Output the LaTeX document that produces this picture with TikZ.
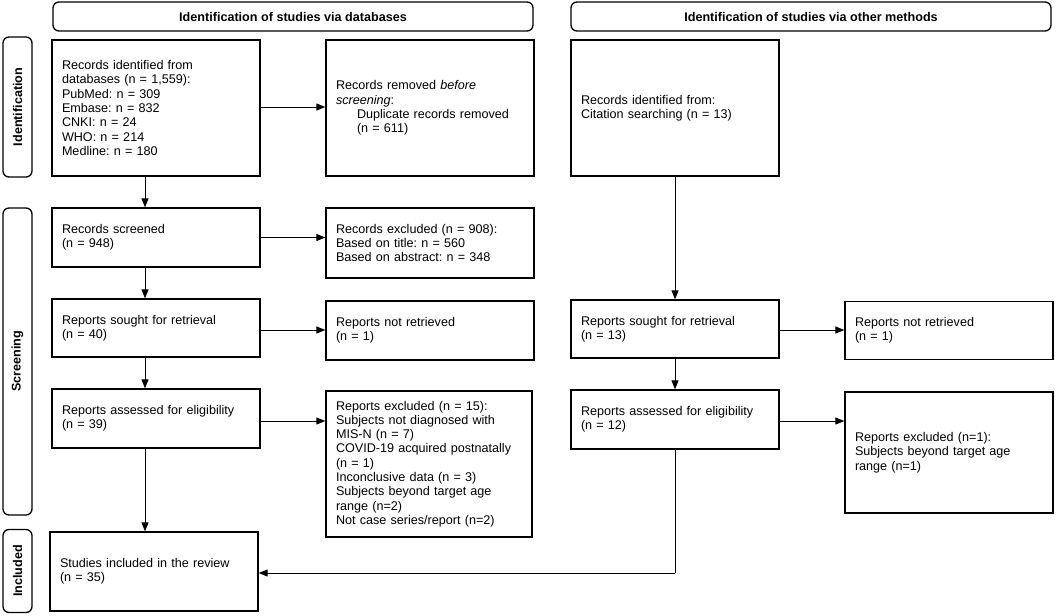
\documentclass[tikz,border=0pt]{standalone}
\usepackage{fontspec}
\setmainfont{Liberation Sans}
\usetikzlibrary{arrows.meta}
\newcommand{\fs}{\fontsize{12.6}{14.3}\selectfont}
\frenchspacing
\begin{document}
\begin{tikzpicture}[x=1pt,y=-1pt,
  box/.style={draw, line width=1.3pt, rectangle, inner xsep=10pt, inner ysep=0pt,
    align=left, font=\fs, text width=188pt, minimum width=208pt, anchor=center},
  header/.style={draw, line width=1.3pt, rounded corners=6pt, font=\fs\bfseries,
    minimum width=480pt, minimum height=29pt, inner sep=0pt, anchor=center},
  sidelab/.style={draw, line width=1.3pt, rounded corners=6pt, font=\fs\bfseries,
    minimum height=29pt, inner sep=0pt, rotate=90, anchor=center},
  arr/.style={line width=0.9pt, -{Triangle[length=9pt,width=7pt]}},
  ln/.style={line width=0.9pt}]
\useasboundingbox (0,0) rectangle (1056,615);
\fill[white] (0,0) rectangle (1056,615);

% headers
\node[header] (h1) at (293,16.5) {Identification of studies via databases};
\node[header] (h2) at (811,16.5) {Identification of studies via other methods};

% side labels
\node[sidelab, minimum width=140pt] (s1) at (17.5,107) {Identification};
\node[sidelab, minimum width=307pt] (s2) at (17.5,361.5) {Screening};
\node[sidelab, minimum width=83pt] (s3) at (17.5,571) {Included};

% left column
\node[box, minimum height=136pt] (A) at (156,108) {Records identified from\\databases (n = 1,559):\\PubMed: n = 309\\Embase: n = 832\\CNKI: n = 24\\WHO: n = 214\\Medline: n = 180};
\node[box, minimum height=59pt] (D) at (156,237.5) {Records screened\\(n = 948)};
\node[box, minimum height=58pt] (F) at (156,328) {Reports sought for retrieval\\(n = 40)};
\node[box, minimum height=59pt] (H) at (156,418.5) {Reports assessed for eligibility\\(n = 39)};
\node[box, minimum height=79pt] (J) at (154,571.5) {Studies included in the review\\(n = 35)};

% second column
\node[box, minimum height=136pt] (B) at (430,108) {Records removed \textit{before}\\\textit{screening}:\\\hspace*{21pt}Duplicate records removed\\\hspace*{21pt}(n = 611)};
\node[box, minimum height=70pt] (E) at (430,243) {Records excluded (n = 908):\\Based on title: n = 560\\Based on abstract: n = 348};
\node[box, minimum height=59pt] (G) at (430,330.5) {Reports not retrieved\\(n = 1)};
\node[box, minimum height=146pt, minimum width=206pt, text width=186pt] (I) at (429,464) {Reports excluded (n = 15):\\Subjects not diagnosed with\\MIS-N (n = 7)\\COVID-19 acquired postnatally\\(n = 1)\\Inconclusive data (n = 3)\\Subjects beyond target age\\range (n=2)\\Not case series/report (n=2)};

% third column
\node[box, minimum height=136pt] (C) at (675,108) {Records identified from:\\Citation searching (n = 13)};
\node[box, minimum height=58pt] (K) at (675,329) {Reports sought for retrieval\\(n = 13)};
\node[box, minimum height=59pt] (M) at (675,419.5) {Reports assessed for eligibility\\(n = 12)};

% fourth column
\node[box, minimum height=58pt] (L) at (949,330.5) {Reports not retrieved\\(n = 1)};
\node[box, minimum height=121pt] (N) at (949,452.5) {Reports excluded (n=1):\\Subjects beyond target age\\range (n=1)};

% connectors
\coordinate (lx) at (145,0);
\draw[arr] (A.east |- 0,107) -- (B.west |- 0,107);
\draw[arr] (D.east) -- (D.east -| E.west);
\draw[arr] (F.east |- 0,330) -- (G.west |- 0,330);
\draw[arr] (H.east |- 0,421) -- (I.west |- 0,421);
\draw[arr] (K.east |- 0,330) -- (L.west |- 0,330);
\draw[arr] (M.east |- 0,421) -- (N.west |- 0,421);

\draw[arr] (A.south -| lx) -- (D.north -| lx);
\draw[arr] (D.south -| lx) -- (F.north -| lx);
\draw[arr] (F.south -| lx) -- (H.north -| lx);
\draw[arr] (H.south -| lx) -- (J.north -| lx);

\draw[arr] (C.south) -- (K.north);
\draw[arr] (K.south) -- (M.north);
\coordinate (jr) at (675,573);
\draw[ln] (M.south) -- (jr);
\draw[arr] (jr) -- (jr -| J.east);
\end{tikzpicture}
\end{document}
